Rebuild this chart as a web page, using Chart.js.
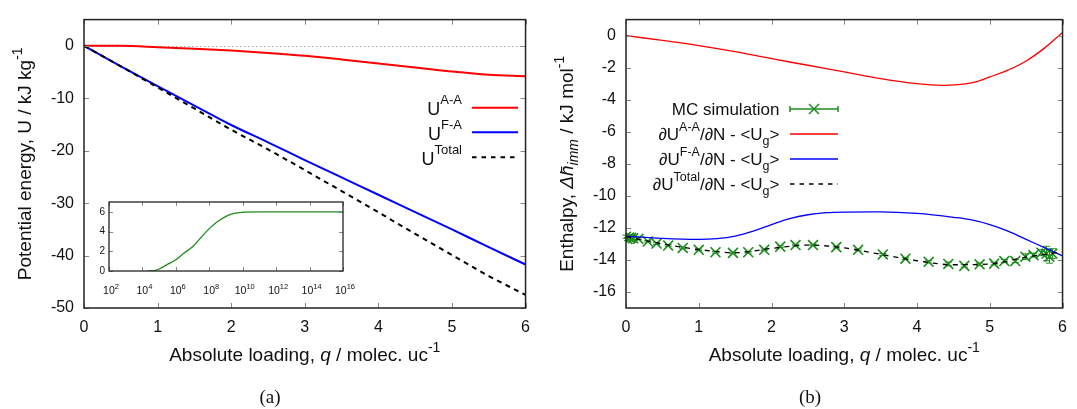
<!DOCTYPE html>
<html>
<head>
<meta charset="utf-8">
<script src="https://cdn.jsdelivr.net/npm/chart.js@4"></script>
<style>
  body { margin: 0; background: #fff; }
  #wrap { position: relative; width: 1077px; height: 409px; overflow: hidden; background: #fff; }
  canvas { position: absolute; }
  .cap { position: absolute; top: 385px; width: 40px; text-align: center;
         font-family: 'Liberation Serif', serif; font-size: 19px; line-height: 24px; color: #111; }
</style>
</head>
<body>
<div id="wrap">
  <canvas id="ca" width="540" height="409" style="left:0;top:0"></canvas>
  <canvas id="cb" width="537" height="409" style="left:540px;top:0"></canvas>
  <canvas id="ci" width="270" height="105" style="left:90px;top:190px"></canvas>
  <div class="cap" style="left:250px">(a)</div>
  <div class="cap" style="left:790px">(b)</div>
</div>
<script>
// panel (a): potential energy vs loading
var qA   = [0, 0.5, 1, 1.5, 2, 2.5, 3, 3.5, 4, 4.5, 5, 5.5, 6];
var uAA  = [0, 0, -0.25, -0.55, -0.9, -1.35, -1.9, -2.6, -3.35, -4.15, -4.9, -5.5, -5.8];
var uFA  = [0, -3.9, -7.7, -11.4, -15.1, -18.4, -21.8, -25.1, -28.4, -31.7, -35.0, -38.4, -41.7];
var uTot = [0, -3.9, -7.95, -11.95, -16.0, -19.75, -23.7, -27.7, -31.75, -35.85, -39.9, -43.9, -47.5];

// inset: loading vs pressure
var insetP = [2e4, 5e4, 1e5, 3e5, 1e6, 3e6, 1e7, 3e7, 1e8, 3e8, 1e9, 3e9, 1e10, 1e11, 1e12, 1e14, 1e16];
var insetQ = [0, 0.04, 0.2, 0.65, 1.15, 1.8, 2.45, 3.35, 4.3, 5.0, 5.55, 5.85, 5.96, 6.0, 6.0, 6.0, 6.0];

// panel (b): enthalpy vs loading
var qAA  = [0, 0.5, 1, 1.5, 2, 2.5, 3, 3.5, 4, 4.35, 4.75, 5, 5.25, 5.5, 5.75, 6];
var hAA  = [0, -0.3, -0.62, -1.0, -1.44, -1.85, -2.26, -2.68, -3.0, -3.1, -2.95, -2.58, -2.15, -1.58, -0.78, 0.2];
var qFA  = [0, 0.5, 1, 1.25, 1.5, 1.75, 2, 2.25, 2.5, 2.75, 3, 3.5, 4, 4.5, 4.75, 5, 5.25, 5.5, 5.75, 6];
var hFA  = [-12.51, -12.66, -12.72, -12.67, -12.51, -12.2, -11.79, -11.42, -11.18, -11.05, -11.01, -11.0, -11.1,
            -11.34, -11.5, -11.79, -12.2, -12.72, -13.23, -13.75];
var qTot = [0, 0.5, 1, 1.5, 2, 2.5, 3, 3.5, 4, 4.5, 5, 5.5, 6];
var hTot = [-12.55, -13.0, -13.35, -13.55, -13.28, -13.07, -13.25, -13.65, -14.05, -14.3, -14.25, -13.82, -13.5];

var mcQ   = [0.0, 0.02, 0.04, 0.07, 0.1, 0.17, 0.3, 0.42, 0.58, 0.78, 1.0, 1.23, 1.47, 1.68, 1.9, 2.12, 2.33, 2.57,
             2.89, 3.19, 3.53, 3.84, 4.16, 4.43, 4.65, 4.86, 5.06, 5.2, 5.35, 5.49, 5.6, 5.71, 5.78, 5.82, 5.86];
var mcH   = [-12.55, -12.7, -12.6, -12.62, -12.65, -12.68, -12.85, -12.98, -13.1, -13.25, -13.37, -13.52, -13.56, -13.52,
             -13.37, -13.17, -13.07, -13.07, -13.2, -13.37, -13.66, -13.92, -14.12, -14.25, -14.37, -14.27, -14.23,
             -14.07, -14.07, -13.8, -13.7, -13.55, -13.6, -13.8, -13.6];
var mcErr = [0.1, 0.1, 0.1, 0.08, 0.08, 0.06, 0.05, 0.05, 0.05, 0.05, 0.05, 0.05, 0.05, 0.05, 0.05, 0.05, 0.05, 0.05,
             0.06, 0.06, 0.06, 0.06, 0.07, 0.12, 0.08, 0.08, 0.08, 0.1, 0.1, 0.18, 0.12, 0.18, 0.45, 0.4, 0.3];

// tick labels
var qTicks      = [0, 1, 2, 3, 4, 5, 6];
var uTicks      = [-50, -40, -30, -20, -10, 0];
var hTicks      = [-16, -14, -12, -10, -8, -6, -4, -2, 0];
var insetPTicks = [1e2, 1e4, 1e6, 1e8, 1e10, 1e12, 1e14, 1e16];
var insetQTicks = [0, 2, 4, 6];

var FONT = "'Liberation Sans', Arial, sans-serif";
var RED = '#ff0000', BLUE = '#0000ff', GREEN = '#1e8c1e';

function pts(xs, ys) {
    return xs.map(function(x, i) { return {x: x, y: ys[i]}; });
}

// draws a row of text pieces (superscripts, subscripts, italics)
function rich(ctx, parts, x, y, align) {
    var w = 0;
    var fonts = parts.map(function(p) { return (p.it ? 'italic ' : '') + p.s + 'px ' + FONT; });
    parts.forEach(function(p, i) { ctx.font = fonts[i]; p.w = ctx.measureText(p.t).width; w += p.w; });
    var cx = align === 'right' ? x - w : (align === 'center' ? x - w / 2 : x);
    ctx.textAlign = 'left';
    ctx.textBaseline = 'alphabetic';
    parts.forEach(function(p, i) {
        ctx.font = fonts[i];
        ctx.fillText(p.t, cx, y + (p.dy || 0));
        cx += p.w;
    });
}

function hline(ctx, x1, x2, y, color, width, dash) {
    ctx.save();
    ctx.strokeStyle = color;
    ctx.lineWidth = width;
    ctx.setLineDash(dash || []);
    ctx.beginPath();
    ctx.moveTo(x1, y);
    ctx.lineTo(x2, y);
    ctx.stroke();
    ctx.restore();
}

// gnuplot style frame with inward ticks on all sides
var framePlugin = {
    id: 'frame',
    afterDatasetsDraw: function(chart, args, opts) {
        var ctx = chart.ctx, a = chart.chartArea, x = chart.scales.x, y = chart.scales.y;
        var len = opts.tick || 5;
        ctx.save();
        ctx.strokeStyle = '#888';
        ctx.lineWidth = 1;
        ctx.beginPath();
        x.ticks.forEach(function(t) {
            var px = Math.round(x.getPixelForValue(t.value)) + 0.5;
            ctx.moveTo(px, a.bottom); ctx.lineTo(px, a.bottom - len);
            ctx.moveTo(px, a.top); ctx.lineTo(px, a.top + len);
        });
        y.ticks.forEach(function(t) {
            var py = Math.round(y.getPixelForValue(t.value)) + 0.5;
            ctx.moveTo(a.left, py); ctx.lineTo(a.left + len, py);
            ctx.moveTo(a.right, py); ctx.lineTo(a.right - len, py);
        });
        ctx.stroke();
        ctx.strokeStyle = '#222';
        ctx.lineWidth = opts.width || 1.5;
        ctx.strokeRect(a.left, a.top, a.width, a.height);
        ctx.restore();
    }
};
Chart.register(framePlugin);

function axis(min, max, ticks, size, pad, fit) {
    return {
        type: 'linear', min: min, max: max,
        grid: {display: false, drawTicks: false},
        border: {display: false},
        ticks: {font: {family: FONT, size: size}, color: '#111', padding: pad},
        afterBuildTicks: function(s) { s.ticks = ticks.map(function(v) { return {value: v}; }); },
        afterFit: fit
    };
}

function baseOptions(padding) {
    return {
        responsive: false,
        animation: false,
        devicePixelRatio: 1,
        layout: {padding: padding},
        elements: {point: {radius: 0}, line: {cubicInterpolationMode: 'monotone'}},
        plugins: {legend: {display: false}, tooltip: {enabled: false}, frame: {}}
    };
}

// ---------- panel (a)
var optA = baseOptions({left: 0, top: 15, right: 10, bottom: 0});
optA.scales = {
    x: axis(0, 6, qTicks, 16, 10, function(s) { s.height = 101; }),
    y: axis(-50, 5, uTicks, 16, 10, function(s) { s.width = 84; })
};

new Chart(document.getElementById('ca'), {
    type: 'line',
    data: {datasets: [
        {label: 'U Total', data: pts(qA, uTot), borderColor: '#000', borderWidth: 2, borderDash: [5, 4.5], order: 0},
        {label: 'U F-A', data: pts(qA, uFA), borderColor: BLUE, borderWidth: 2, order: 1},
        {label: 'U A-A', data: pts(qA, uAA), borderColor: RED, borderWidth: 2, order: 2}
    ]},
    options: optA,
    plugins: [{
        id: 'decorA',
        beforeDatasetsDraw: function(chart) {
            var y0 = chart.scales.y.getPixelForValue(0);
            hline(chart.ctx, chart.chartArea.left, chart.chartArea.right, Math.round(y0) + 0.5, '#aaa', 1, [1.5, 2.5]);
        },
        afterDraw: function(chart) {
            var ctx = chart.ctx, a = chart.chartArea;
            ctx.save();
            ctx.fillStyle = '#111';
            rich(ctx, [{t: 'Absolute loading, ', s: 19}, {t: 'q', s: 19, it: true},
                       {t: ' / molec. uc', s: 19}, {t: '-1', s: 14, dy: -9}],
                 (a.left + a.right) / 2, a.bottom + 53, 'center');
            ctx.save();
            ctx.translate(a.left - 53, (a.top + a.bottom) / 2);
            ctx.rotate(-Math.PI / 2);
            rich(ctx, [{t: 'Potential energy, U / kJ kg', s: 19}, {t: '-1', s: 14, dy: -9}], 0, 0, 'center');
            ctx.restore();

            var rows = [
                {sup: 'A-A', y: 107.7, c: RED, dash: []},
                {sup: 'F-A', y: 132.3, c: BLUE, dash: []},
                {sup: 'Total', y: 157.3, c: '#000', dash: [4.5, 5]}
            ];
            rows.forEach(function(r) {
                rich(ctx, [{t: 'U', s: 18}, {t: r.sup, s: 13, dy: -11}], 462, r.y + 7.5, 'right');
                hline(ctx, 472, 518, r.y, r.c, 2, r.dash);
            });
            ctx.restore();
        }
    }]
});

// ---------- inset
var optI = baseOptions({left: 0, top: 12, right: 17, bottom: 0});
optI.scales = {
    x: {
        type: 'logarithmic', min: 1e2, max: 1e16,
        grid: {display: false, drawTicks: false},
        border: {display: false},
        ticks: {display: false},
        afterBuildTicks: function(s) { s.ticks = insetPTicks.map(function(v) { return {value: v}; }); },
        afterFit: function(s) { s.height = 24; }
    },
    y: axis(0, 7, insetQTicks, 10, 4, function(s) { s.width = 19; })
};
optI.plugins.frame = {tick: 4, width: 1.3};

new Chart(document.getElementById('ci'), {
    type: 'line',
    data: {datasets: [
        {label: 'q(P)', data: pts(insetP, insetQ), borderColor: GREEN, borderWidth: 1.3}
    ]},
    options: optI,
    plugins: [{
        id: 'insetLabels',
        afterDraw: function(chart) {
            var ctx = chart.ctx, x = chart.scales.x, a = chart.chartArea;
            ctx.save();
            ctx.fillStyle = '#111';
            x.ticks.forEach(function(t) {
                var e = Math.round(Math.log10(t.value));
                rich(ctx, [{t: '10', s: 10.5}, {t: String(e), s: 7.5, dy: -5}],
                     x.getPixelForValue(t.value) + 2, a.bottom + 22.5, 'center');
            });
            ctx.restore();
        }
    }]
});

// ---------- panel (b)
var optB = baseOptions({left: 0, top: 15, right: 5, bottom: 0});
optB.scales = {
    x: axis(0, 6, qTicks, 16, 10, function(s) { s.height = 101; }),
    y: axis(-17, 1, hTicks, 16, 10, function(s) { s.width = 86; })
};

new Chart(document.getElementById('cb'), {
    type: 'line',
    data: {datasets: [
        {label: 'Total', data: pts(qTot, hTot), borderColor: '#000', borderWidth: 1.3, borderDash: [5, 5], order: 0},
        {label: 'F-A', data: pts(qFA, hFA), borderColor: BLUE, borderWidth: 1.3, order: 1},
        {label: 'A-A', data: pts(qAA, hAA), borderColor: RED, borderWidth: 1.3, order: 2,
         cubicInterpolationMode: 'default', tension: 0.4},
        {label: 'MC simulation', data: pts(mcQ, mcH), showLine: false, pointStyle: 'crossRot',
         pointRadius: 7, pointBorderWidth: 1.6, borderColor: GREEN, backgroundColor: GREEN, order: 3}
    ]},
    options: optB,
    plugins: [{
        id: 'decorB',
        beforeDatasetsDraw: function(chart) {
            var ctx = chart.ctx, x = chart.scales.x, y = chart.scales.y;
            ctx.save();
            ctx.strokeStyle = GREEN;
            ctx.lineWidth = 1;
            ctx.beginPath();
            mcQ.forEach(function(q, i) {
                var px = x.getPixelForValue(q);
                var y1 = y.getPixelForValue(mcH[i] - mcErr[i]);
                var y2 = y.getPixelForValue(mcH[i] + mcErr[i]);
                ctx.moveTo(px, y1); ctx.lineTo(px, y2);
                ctx.moveTo(px - 3.5, y1); ctx.lineTo(px + 3.5, y1);
                ctx.moveTo(px - 3.5, y2); ctx.lineTo(px + 3.5, y2);
            });
            ctx.stroke();
            ctx.restore();
        },
        afterDraw: function(chart) {
            var ctx = chart.ctx, a = chart.chartArea;
            ctx.save();
            ctx.fillStyle = '#111';
            rich(ctx, [{t: 'Absolute loading, ', s: 19}, {t: 'q', s: 19, it: true},
                       {t: ' / molec. uc', s: 19}, {t: '-1', s: 14, dy: -9}],
                 (a.left + a.right) / 2, a.bottom + 53, 'center');
            ctx.save();
            ctx.translate(a.left - 53, (a.top + a.bottom) / 2);
            ctx.rotate(-Math.PI / 2);
            rich(ctx, [{t: 'Enthalpy, ', s: 19}, {t: 'Δh̄', s: 19, it: true}, {t: 'imm', s: 14, it: true, dy: 5},
                       {t: ' / kJ mol', s: 19}, {t: '-1', s: 14, dy: -9}], 0, 0, 'center');
            ctx.restore();

            // legend
            var tx = 239.5, l1 = 250, l2 = 298;
            rich(ctx, [{t: 'MC simulation', s: 17}], tx, 109 + 6, 'right');
            hline(ctx, l1, l2, 109, GREEN, 1.3);
            ctx.strokeStyle = GREEN;
            ctx.lineWidth = 1.5;
            ctx.beginPath();
            ctx.moveTo(l1, 106); ctx.lineTo(l1, 112);
            ctx.moveTo(l2, 106); ctx.lineTo(l2, 112);
            var mx = (l1 + l2) / 2;
            ctx.moveTo(mx - 5, 104); ctx.lineTo(mx + 5, 114);
            ctx.moveTo(mx - 5, 114); ctx.lineTo(mx + 5, 104);
            ctx.stroke();

            var rows = [
                {sup: 'A-A', y: 134, c: RED, dash: []},
                {sup: 'F-A', y: 159, c: BLUE, dash: []},
                {sup: 'Total', y: 184, c: '#000', dash: [4.5, 5]}
            ];
            rows.forEach(function(r) {
                rich(ctx, [{t: '∂U', s: 17}, {t: r.sup, s: 12.5, dy: -9}, {t: '/∂N - <U', s: 17},
                           {t: 'g', s: 12.5, dy: 5}, {t: '>', s: 17}], tx, r.y + 6, 'right');
                hline(ctx, l1, l2, r.y, r.c, 1.3, r.dash);
            });
            ctx.restore();
        }
    }]
});
</script>
</body>
</html>
